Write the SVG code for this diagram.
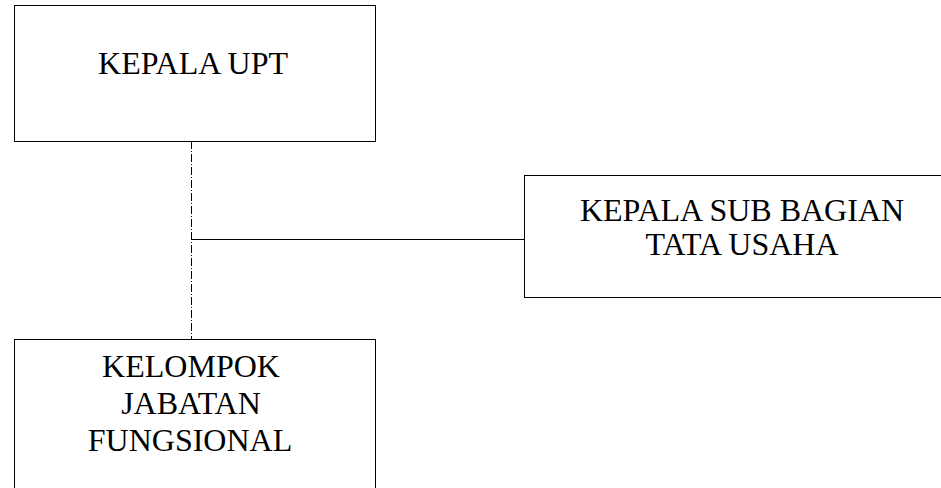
<svg xmlns="http://www.w3.org/2000/svg" width="941" height="488" viewBox="0 0 941 488">
<style>
.box{fill:#fff;stroke:#000;stroke-width:1}
.t{font-family:"Liberation Serif","Times New Roman",serif;font-size:32px;fill:#000;text-anchor:middle}
.c{stroke:#000;stroke-width:1;fill:none}
</style>
<rect width="941" height="488" fill="#fff"/>
<g id="connectors">
<line class="c" x1="191.5" y1="141" x2="191.5" y2="339" stroke-dasharray="8,2,1,2"/>
<line class="c" x1="191.5" y1="239.5" x2="524" y2="239.5"/>
</g>
<g id="kepala-upt">
<rect class="box" x="14.5" y="5.5" width="361" height="136"/>
<text class="t" x="193" y="74">KEPALA UPT</text>
</g>
<g id="kasubbag-tu">
<rect class="box" x="524.5" y="175.5" width="430" height="122"/>
<text class="t" x="742" y="221">KEPALA SUB BAGIAN</text>
<text class="t" x="742" y="255">TATA USAHA</text>
</g>
<g id="kelompok-jf">
<rect class="box" x="14.5" y="339.5" width="361" height="160"/>
<text class="t" x="191" y="377">KELOMPOK</text>
<text class="t" x="191" y="414">JABATAN</text>
<text class="t" x="190" y="451">FUNGSIONAL</text>
</g>
</svg>
